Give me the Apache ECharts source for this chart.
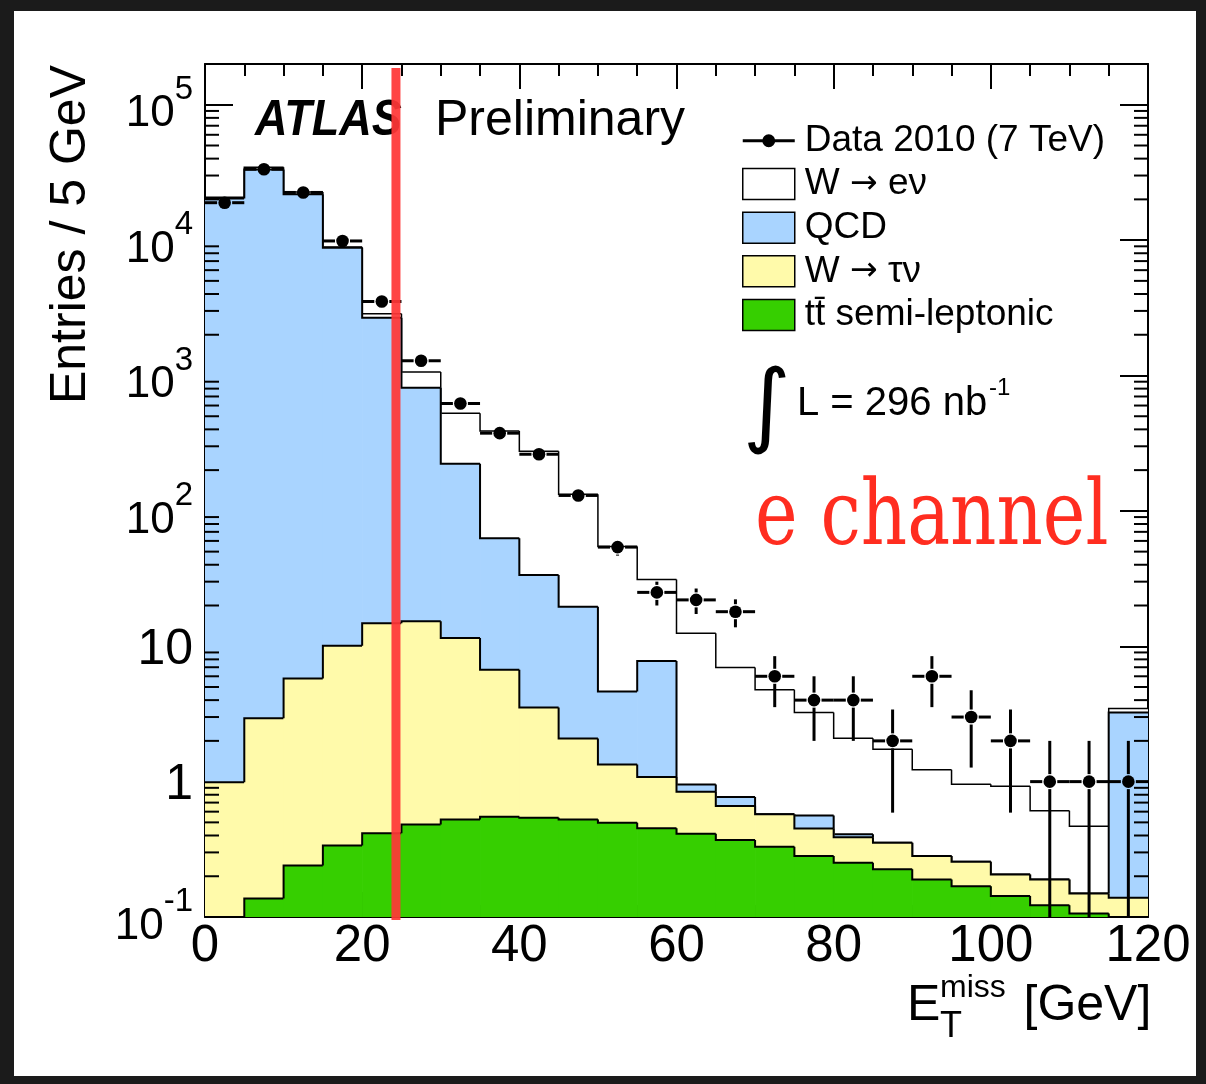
<!DOCTYPE html>
<html><head><meta charset="utf-8">
<script src="https://cdn.jsdelivr.net/npm/echarts@6/dist/echarts.min.js"></script>
<style>html,body{margin:0;padding:0;background:#1b1b1b}#c{width:1206px;height:1084px}</style>
</head><body><div id="c"></div>
<script>
// ---- data ----
const binLow = [0,5,10,15,20,25,30,35,40,45,50,55,60,65,70,75,80,85,90,95,100,105,110,115];
const binWidth = 5;
const ttbar  = [0, 0.137, 0.240, 0.338, 0.415, 0.483, 0.526, 0.551, 0.541, 0.526, 0.497, 0.452, 0.412, 0.370, 0.330, 0.282, 0.252, 0.225, 0.189, 0.169, 0.143, 0.122, 0.106, 0];
const wtaunu = [0.99, 2.80, 5.54, 9.76, 14.4, 14.8, 11.0, 6.14, 2.99, 1.56, 0.84, 0.63, 0.43, 0.29, 0.243, 0.169, 0.137, 0.129, 0.093, 0.087, 0.063, 0.067, 0.043, 0.139];
const qcd    = [20300, 33200, 21790, 8780, 2655, 796, 211, 56, 30, 17.5, 3.3, 6.7, 0.11, 0.11, 0, 0.11, 0.02, 0, 0, 0, 0, 0, 0, 3.1];
const wenu   = [400, 1300, 900, 110, 190, 249, 304, 327, 242, 113, 50, 23.3, 11.5, 6.2, 4.19, 2.68, 1.68, 1.38, 0.94, 0.70, 0.72, 0.42, 0.32, 0.23];
const dataCounts = [18900, 33400, 22500, 9860, 3520, 1285, 621, 375, 262, 130, 54, 25, 22, 18, 6, 4, 4, 2, 6, 3, 2, 1, 1, 1];
const dataErr    = [137, 183, 150, 99, 59, 36, 25, 19.4, 16.2, 11.4, 7.3, 5.0, 4.7, 4.2, 2.45, 2.0, 2.0, 1.41, 2.45, 1.73, 1.41, 1.0, 1.0, 1.0];
const yTicks = [0.1, 1, 10, 100, 1000, 10000, 100000];
const yMinorSteps = [2,3,4,5,6,7,8,9];
const xTicks = [0, 20, 40, 60, 80, 100, 120];
const cutValue = 24.3;
const YMIN = 0.1, YMAX = 2e5, XMIN = 0, XMAX = 120;

const SANS = '"Liberation Sans", Arial, Helvetica, sans-serif';
const clampY = v => Math.min(Math.max(v, YMIN), YMAX);

const layers = [
  {name: 'tt\u0304 semi-leptonic', vals: ttbar,  color: '#36cf00', lw: 2},
  {name: 'W \u2192 \u03c4\u03bd',  vals: wtaunu, color: '#fffaaa', lw: 2},
  {name: 'QCD',                     vals: qcd,    color: '#a9d4ff', lw: 2},
  {name: 'W \u2192 e\u03bd',       vals: wenu,   color: '#ffffff', lw: 1.5}
];
let cum = binLow.map(() => 0);
layers.forEach(L => {
  L.lo = cum.slice();
  cum = cum.map((c, i) => c + L.vals[i]);
  L.hi = cum.slice();
});

function layerSeries(L) {
  return {
    type: 'custom', name: L.name, coordinateSystem: 'cartesian2d', clip: true,
    itemStyle: {color: L.color},
    encode: {x: [0, 1], y: [2, 3]},
    data: binLow.map((x, i) => [x, x + binWidth, clampY(L.lo[i]), clampY(L.hi[i]), clampY(i > 0 ? L.hi[i-1] : L.hi[i])]),
    renderItem: (params, api) => {
      const x0 = api.value(0), x1 = api.value(1);
      const lo = api.value(2), hi = api.value(3), prev = api.value(4);
      const a = api.coord([x0, hi]), b = api.coord([x1, lo]), p = api.coord([x0, prev]);
      return {type: 'group', children: [
        {type: 'rect', shape: {x: a[0], y: a[1], width: b[0] - a[0] + 0.7, height: b[1] - a[1]}, style: {fill: L.color}},
        {type: 'polyline', shape: {points: [[a[0], p[1]], [a[0], a[1]], [b[0], a[1]]]}, style: {stroke: '#000', lineWidth: L.lw, fill: null}}
      ]};
    }
  };
}

const series = [];
// draw total first, lowest layer last (ROOT stack order)
for (let k = layers.length - 1; k >= 0; k--) series.push(layerSeries(layers[k]));

// data points with error bars
series.push({
  type: 'custom', name: 'Data 2010 (7 TeV)', coordinateSystem: 'cartesian2d', clip: true, z: 3,
  itemStyle: {color: '#000'},
  encode: {x: [0, 1], y: 2},
  data: binLow.map((x, i) => [x, x + binWidth, dataCounts[i], dataErr[i]]),
  renderItem: (params, api) => {
    const x0 = api.value(0), x1 = api.value(1), v = api.value(2), e = api.value(3);
    const xc = (x0 + x1) / 2;
    const c = api.coord([xc, v]);
    const l = api.coord([x0, v]), r = api.coord([x1, v]);
    const t = api.coord([xc, clampY(v + e)]), bt = api.coord([xc, clampY(v - e)]);
    const gap = 7.5, st = {stroke: '#000', lineWidth: 3};
    const ch = [
      {type: 'line', shape: {x1: l[0], y1: c[1], x2: c[0] - gap, y2: c[1]}, style: st},
      {type: 'line', shape: {x1: c[0] + gap, y1: c[1], x2: r[0], y2: c[1]}, style: st}
    ];
    if (t[1] < c[1] - gap) ch.push({type: 'line', shape: {x1: c[0], y1: t[1], x2: c[0], y2: c[1] - gap}, style: st});
    if (bt[1] > c[1] + gap) ch.push({type: 'line', shape: {x1: c[0], y1: c[1] + gap, x2: c[0], y2: bt[1]}, style: st});
    ch.push({type: 'circle', shape: {cx: c[0], cy: c[1], r: 6.3}, style: {fill: '#000'}});
    return {type: 'group', children: ch};
  }
});

// minor log ticks on left and right frame edges
const minorVals = [];
yTicks.forEach(d => yMinorSteps.forEach(m => { if (d * m < YMAX) minorVals.push(d * m); }));
series.push({
  type: 'custom', name: 'minorTicks', coordinateSystem: 'cartesian2d', clip: false, silent: true, z: 4,
  encode: {x: 0, y: 1},
  data: minorVals.map(v => [XMIN, v]),
  renderItem: (params, api) => {
    const pL = api.coord([XMIN, api.value(1)]), pR = api.coord([XMAX, api.value(1)]);
    const st = {stroke: '#000', lineWidth: 2};
    return {type: 'group', children: [
      {type: 'line', shape: {x1: pL[0], y1: pL[1], x2: pL[0] + 14, y2: pL[1]}, style: st},
      {type: 'line', shape: {x1: pR[0] - 14, y1: pR[1], x2: pR[0], y2: pR[1]}, style: st}
    ]};
  }
});

// red cut line
series.push({
  type: 'custom', name: 'cut', coordinateSystem: 'cartesian2d', clip: false, silent: true, z: 60,
  encode: {x: 0, y: 1},
  data: [[cutValue, YMIN]],
  renderItem: (params, api) => {
    const top = api.coord([api.value(0), YMAX]), bot = api.coord([api.value(0), YMIN]);
    return {type: 'line', shape: {x1: top[0], y1: top[1] + 4, x2: bot[0], y2: bot[1] + 3},
            style: {stroke: 'rgba(255,55,55,0.93)', lineWidth: 9}};
  }
});

function xAx(pos, showLabel) {
  return {
    type: 'value', position: pos, min: XMIN, max: XMAX, interval: 20,
    axisLine: {show: true, onZero: false, lineStyle: {color: '#000', width: 2}},
    axisTick: {show: true, inside: true, length: 25, lineStyle: {color: '#000', width: 2}},
    minorTick: {show: true, splitNumber: 4, length: 12, lineStyle: {color: '#000', width: 2}},
    splitLine: {show: false}, minorSplitLine: {show: false},
    axisLabel: {show: showLabel, margin: 4, fontSize: 51, color: '#000', fontFamily: SANS,
      formatter: v => xTicks.indexOf(v) >= 0 ? String(v) : ''}
  };
}
function yAx(pos, showLabel) {
  return {
    type: 'log', logBase: 10, position: pos, min: YMIN, max: YMAX,
    axisLine: {show: true, onZero: false, lineStyle: {color: '#000', width: 2}},
    axisTick: {show: true, inside: true, length: 28, lineStyle: {color: '#000', width: 2}},
    splitLine: {show: false},
    axisLabel: {show: showLabel, margin: 12, color: '#000', fontFamily: SANS, showMaxLabel: false, showMinLabel: true,
      formatter: v => {
        const e = Math.round(Math.log10(v));
        if (Math.abs(Math.pow(10, e) - v) / v > 1e-6) return '';
        if (e === 0) return '{p|1}';
        if (e === 1) return '{p|10}';
        return '{b|10}{s|' + (e < 0 ? '-' : '') + Math.abs(e) + '}';
      },
      rich: {
        p: {fontSize: 50, fontFamily: SANS, color: '#000', padding: [7, 0, 0, 0]},
        b: {fontSize: 44, fontFamily: SANS, color: '#000', lineHeight: 44, verticalAlign: 'bottom'},
        s: {fontSize: 33, fontFamily: SANS, color: '#000', lineHeight: 63, verticalAlign: 'top', padding: [0, 0, 30, 0]}
      }
    }
  };
}

const dataIcon = 'path://M0,0L0.01,0L0.01,0.01Z M52,31L51.99,31L51.99,30.99Z M0,14.3L52,14.3L52,17.2L0,17.2Z M32.5,15.75A6.5,6.5,0,1,1,19.5,15.75A6.5,6.5,0,1,1,32.5,15.75Z';

const option = {
  animation: false,
  backgroundColor: '#1b1b1b',
  grid: {left: 205, top: 64, right: 58, bottom: 167, containLabel: false, outerBoundsMode: 'none'},
  xAxis: [xAx('bottom', true), xAx('top', false)],
  yAxis: [yAx('left', true), yAx('right', false)],
  legend: {
    orient: 'vertical', left: 742, top: 122, padding: 0,
    itemWidth: 52, itemHeight: 31, itemGap: 6.6, selectedMode: false,
    icon: 'rect',
    itemStyle: {borderColor: '#000', borderWidth: 1.5},
    formatter: n => n.indexOf('\u2192') >= 0 ? n.replace(' \u2192 ', ' {arr|\u2192} ') : n,
    textStyle: {fontSize: 37, fontFamily: SANS, color: '#000', padding: [0, 0, 0, 5],
      rich: {arr: {fontSize: 33, fontFamily: '"DejaVu Sans", sans-serif', color: '#000'}}},
    data: [
      {name: 'Data 2010 (7 TeV)', icon: dataIcon, itemStyle: {borderWidth: 0, color: '#000'}},
      {name: 'W \u2192 e\u03bd'},
      {name: 'QCD'},
      {name: 'W \u2192 \u03c4\u03bd'},
      {name: 'tt\u0304 semi-leptonic'}
    ]
  },
  graphic: {elements: [
    {type: 'rect', z: -100, silent: true, shape: {x: 14, y: 11, width: 1182, height: 1065}, style: {fill: '#ffffff'}},
    {type: 'text', z: 50, x: 255, y: 121.5, scaleX: 0.9, style: {text: 'ATLAS', font: 'italic bold 50px ' + SANS, fill: '#000', align: 'left', verticalAlign: 'middle'}},
    {type: 'text', z: 50, x: 435, y: 121.5, style: {text: 'Preliminary', font: '50px ' + SANS, fill: '#000', align: 'left', verticalAlign: 'middle'}},
    {type: 'text', z: 50, x: 767, y: 411, style: {text: '\u222b', font: '92px "DejaVu Sans", sans-serif', fill: '#000', align: 'center', verticalAlign: 'middle'}},
    {type: 'text', z: 50, x: 797, y: 404, style: {text: 'L = 296 nb', font: '40px ' + SANS, fill: '#000', align: 'left', verticalAlign: 'middle'}},
    {type: 'text', z: 50, x: 989, y: 388, style: {text: '-1', font: '24px ' + SANS, fill: '#000', align: 'left', verticalAlign: 'middle'}},
    {type: 'text', z: 50, x: 755, y: 521, scaleX: 0.9, scaleY: 1.12, style: {text: 'e channel', font: '80px "DejaVu Serif", serif', fill: '#ff2d20', align: 'left', verticalAlign: 'middle'}},
    {type: 'text', z: 50, x: 71, y: 65, rotation: Math.PI / 2, style: {text: 'Entries / 5 GeV', font: '50px ' + SANS, fill: '#000', align: 'right', verticalAlign: 'middle'}},
    {type: 'text', z: 50, x: 907, y: 1006.5, style: {text: 'E', font: '50px ' + SANS, fill: '#000', align: 'left', verticalAlign: 'middle'}},
    {type: 'text', z: 50, x: 940, y: 988, style: {text: 'miss', font: '32px ' + SANS, fill: '#000', align: 'left', verticalAlign: 'middle'}},
    {type: 'text', z: 50, x: 940, y: 1027.5, style: {text: 'T', font: '36px ' + SANS, fill: '#000', align: 'left', verticalAlign: 'middle'}},
    {type: 'text', z: 50, x: 1023.5, y: 1006.5, style: {text: '[GeV]', font: '50px ' + SANS, fill: '#000', align: 'left', verticalAlign: 'middle'}}
  ]},
  series: series
};

const chart = echarts.init(document.getElementById('c'), null, {renderer: 'canvas', width: 1206, height: 1084});
chart.setOption(option);
</script>
</body></html>
